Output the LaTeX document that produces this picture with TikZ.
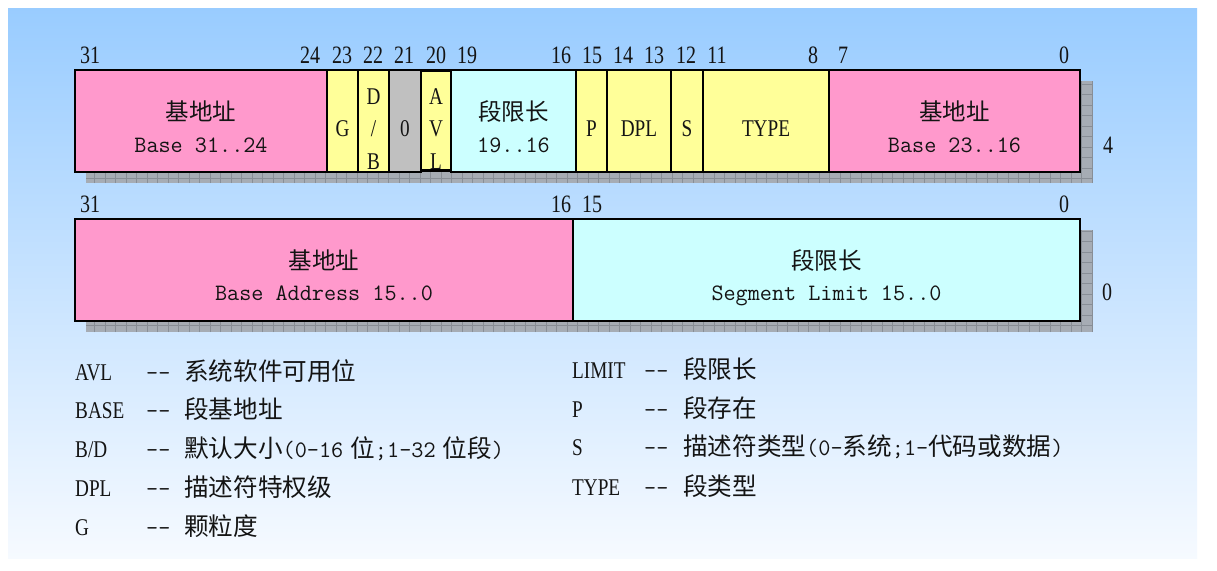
\documentclass[tikz,border=0pt]{standalone}
\usepackage{fontspec}
\newfontfamily\cjk{Noto Sans CJK SC}
\newfontfamily\nar[FakeStretch=0.8]{Liberation Serif}
\newcommand\cjkt[1]{{\cjk\fontsize{24.6}{25}\selectfont #1}}
\newcommand\latt[1]{{\ttfamily\fontsize{23.6}{24}\selectfont #1}}
\definecolor{pinkc}{RGB}{255,153,204}
\definecolor{yelc}{RGB}{255,255,153}
\definecolor{grayc}{RGB}{192,192,192}
\definecolor{cyanc}{RGB}{204,255,255}
\definecolor{bgtop}{RGB}{153,204,255}
\definecolor{bgbot}{RGB}{246,250,255}
\definecolor{shfill}{RGB}{166,172,180}
\definecolor{shgrid}{RGB}{136,142,150}
\definecolor{txt}{RGB}{20,20,20}
\begin{document}
\begin{tikzpicture}[x=1pt,y=-1pt,
  fieldbox/.style={draw=black, line width=2.6pt, inner sep=0pt, outer sep=0pt, minimum height=102pt},
  bitlbl/.style={anchor=base, inner sep=0pt, text=txt, font=\nar\fontsize{25}{25}\selectfont},
  cjktxt/.style={anchor=base, inner sep=0pt, text=txt, font=\cjk\fontsize{23.5}{24}\selectfont},
  monotxt/.style={anchor=base, inner sep=0pt, text=txt, font=\ttfamily\fontsize{23.5}{24}\selectfont},
  ltr/.style={anchor=base, inner sep=0pt, text=txt, font=\nar\fontsize{24}{24}\selectfont},
  leg/.style={anchor=base west, inner sep=0pt, text=txt, font=\nar\fontsize{24}{24}\selectfont},
  legdash/.style={anchor=base west, inner sep=0pt, text=txt, font=\ttfamily\fontsize{23.5}{24}\selectfont},
  shadowfill/.style={fill=shfill},
  shadowgrid/.style={draw=shgrid, line width=0.6pt}
]
\useasboundingbox (0,0) rectangle (1217,570);
\fill[white] (0,0) rectangle (1217,570);
\shade[top color=bgtop, bottom color=bgbot] (8,8) rectangle (1197,558);

% shadows
\fill[shadowfill] (86,81) rectangle (1092,183);
\draw[shadowgrid, step=10.5pt] (86,81) grid (1092,183);
\fill[shadowfill] (86,230) rectangle (1092,332);
\draw[shadowgrid, step=10.5pt] (86,230) grid (1092,332);

% row 1 fields
\node[fieldbox, fill=pinkc, minimum width=252pt] (b1) at (201,121) {};
\node[fieldbox, fill=yelc, minimum width=31pt] (g) at (342.5,121) {};
\node[fieldbox, fill=yelc, minimum width=31pt] (db) at (373.5,121) {};
\node[fieldbox, fill=grayc, minimum width=32pt] (z) at (405,121) {};
\node[fieldbox, fill=yelc, minimum width=30pt, minimum height=100pt] (avl) at (436,120.5) {};
\node[fieldbox, fill=cyanc, minimum width=125pt] (l1) at (513.5,121) {};
\node[fieldbox, fill=yelc, minimum width=31pt] (p) at (591.5,121) {};
\node[fieldbox, fill=yelc, minimum width=64pt] (dpl) at (639,121) {};
\node[fieldbox, fill=yelc, minimum width=32pt] (s) at (687,121) {};
\node[fieldbox, fill=yelc, minimum width=126pt] (type) at (766,121) {};
\node[fieldbox, fill=pinkc, minimum width=251pt] (b2) at (954.5,121) {};

% row 1 texts
\node[cjktxt] (b1a) at (201,120) {基地址};
\node[monotxt] (b1b) at (201,152) {Base 31..24};
\node[ltr] (gt) at (342.5,136) {G};
\node[ltr] (dbd) at (373.5,104) {D};
\node[ltr] (dbs) at (373.5,136) {/};
\node[ltr] (dbb) at (373.5,169) {B};
\node[ltr] (zt) at (405,136) {0};
\node[ltr] (avla) at (436,104) {A};
\node[ltr] (avlv) at (436,136) {V};
\node[ltr] (avll) at (436,169) {L};
\node[cjktxt] (l1a) at (513.5,120) {段限长};
\node[monotxt] (l1b) at (513.5,152) {19..16};
\node[ltr] (pt) at (591.5,136) {P};
\node[ltr] (dplt) at (639,136) {DPL};
\node[ltr] (st) at (687,136) {S};
\node[ltr] (typet) at (766,136) {TYPE};
\node[cjktxt] (b2a) at (954.5,120) {基地址};
\node[monotxt] (b2b) at (954.5,152) {Base 23..16};

% row 1 bit labels
\foreach \x/\t/\n in {90/31/a, 310/24/b, 342/23/c, 373/22/d, 404/21/e, 436/20/f, 467/19/g, 561/16/h, 592/15/i, 623/14/j, 654/13/k, 686/12/l, 717/11/m, 813/8/n, 843/7/o, 1064/0/p}
  \node[bitlbl] (t\n) at (\x,63) {\t};
\node[bitlbl] (four) at (1108,153) {4};

% row 2 fields
\node[fieldbox, fill=pinkc, minimum width=498pt] (b3) at (324,270) {};
\node[fieldbox, fill=cyanc, minimum width=507pt] (l2) at (826.5,270) {};
\node[cjktxt] (b3a) at (324,269) {基地址};
\node[monotxt] (b3b) at (324,300) {Base Address 15..0};
\node[cjktxt] (l2a) at (826.5,269) {段限长};
\node[monotxt] (l2b) at (826.5,300) {Segment Limit 15..0};

% row 2 bit labels
\foreach \x/\t/\n in {90/31/a, 561/16/b, 592/15/c, 1064/0/d}
  \node[bitlbl] (u\n) at (\x,212) {\t};
\node[bitlbl] (zero) at (1107,300) {0};

% legend left
\node[leg] (la1) at (75,380) {AVL};   \node[legdash] (ld1) at (146,380) {-{}-}; \node[leg] (lt1) at (184,380) {\cjkt{系统软件可用位}};
\node[leg] (la2) at (75,418) {BASE};  \node[legdash] (ld2) at (146,418) {-{}-}; \node[leg] (lt2) at (184,418) {\cjkt{段基地址}};
\node[leg] (la3) at (75,457) {B/D};   \node[legdash] (ld3) at (146,457) {-{}-}; \node[leg] (lt3) at (184,457) {\cjkt{默认大小}\latt{(0-16}\hspace{7pt}\cjkt{位}\latt{;1-32}\hspace{7pt}\cjkt{位段}\latt{)}};
\node[leg] (la4) at (75,496) {DPL};   \node[legdash] (ld4) at (146,496) {-{}-}; \node[leg] (lt4) at (184,496) {\cjkt{描述符特权级}};
\node[leg] (la5) at (75,535) {G};     \node[legdash] (ld5) at (146,535) {-{}-}; \node[leg] (lt5) at (184,535) {\cjkt{颗粒度}};

% legend right
\node[leg] (ra1) at (572,378) {LIMIT}; \node[legdash] (rd1) at (644,378) {-{}-}; \node[leg] (rt1) at (683,378) {\cjkt{段限长}};
\node[leg] (ra2) at (572,417) {P};     \node[legdash] (rd2) at (644,417) {-{}-}; \node[leg] (rt2) at (683,417) {\cjkt{段存在}};
\node[leg] (ra3) at (572,455) {S};     \node[legdash] (rd3) at (644,455) {-{}-}; \node[leg] (rt3) at (683,455) {\cjkt{描述符类型}\latt{(0-}\cjkt{系统}\latt{;1-}\cjkt{代码或数据}\latt{)}};
\node[leg] (ra4) at (572,495) {TYPE};  \node[legdash] (rd4) at (644,495) {-{}-}; \node[leg] (rt4) at (683,495) {\cjkt{段类型}};
\end{tikzpicture}
\end{document}
